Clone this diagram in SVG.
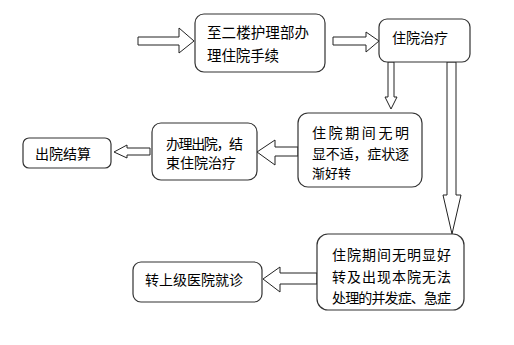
<svg xmlns="http://www.w3.org/2000/svg" width="514" height="345" viewBox="0 0 514 345">
<style>
.box{fill:#fff;stroke:#333;stroke-width:1.2}
.arr{fill:#fff;stroke:#222;stroke-width:1}
text{font-family:"Noto Sans CJK SC","Noto Sans",sans-serif;font-size:14px;fill:#000;dominant-baseline:central}
</style>
<rect width="514" height="345" fill="#fff"/>
<g id="connectors">
<polygon class="arr" points="138,37 179,37 179,28 194,41 179,53 179,45 138,45"/>
<polygon class="arr" points="333,37 366,37 366,32 379,41 366,52 366,45 333,45"/>
<polygon class="arr" points="388,62 394,62 394,97 397,97 391,109 385,97 388,97"/>
<polygon class="arr" points="447,62 456,62 456,195 461,195 452,234 443,195 447,195"/>
<polygon class="arr" points="298,147 275,147 275,140 257,152 275,165 275,156 298,156"/>
<polygon class="arr" points="150,148 127,148 127,145 114,152 127,158 127,155 150,155"/>
<polygon class="arr" points="317,273 280,273 280,267 263,279 280,292 280,284 317,284"/>
</g>
<g id="n1">
<rect class="box" x="195" y="14" width="130" height="58" rx="9"/>
<text x="207" y="31" style="font-size:14.5px" textLength="102" lengthAdjust="spacing">至二楼护理部办</text>
<text x="207" y="54" style="font-size:14.5px" textLength="72" lengthAdjust="spacing">理住院手续</text>
</g>
<g id="n2">
<rect class="box" x="379" y="19" width="91" height="43" rx="8"/>
<text x="392" y="37">住院治疗</text>
</g>
<g id="n3">
<rect class="box" x="298" y="113" width="124" height="74" rx="10"/>
<text x="312" y="132" textLength="97" lengthAdjust="spacing">住院期间无明</text>
<text x="312" y="153" textLength="97" lengthAdjust="spacing">显不适，症状逐</text>
<text x="312" y="172" style="font-size:13px">渐好转</text>
</g>
<g id="n4">
<rect class="box" x="317" y="234" width="147" height="76" rx="11"/>
<text x="332" y="254" textLength="119" lengthAdjust="spacing">住院期间无明显好</text>
<text x="332" y="276" textLength="119" lengthAdjust="spacing">转及出现本院无法</text>
<text x="332" y="297" textLength="119" lengthAdjust="spacing">处理的并发症、急症</text>
</g>
<g id="n5">
<rect class="box" x="152" y="123" width="105" height="57" rx="9"/>
<text x="166" y="143" textLength="77" lengthAdjust="spacing">办理出院，结</text>
<text x="166" y="162">束住院治疗</text>
</g>
<g id="n6">
<rect class="box" x="23" y="138" width="88" height="30" rx="6"/>
<text x="35" y="153">出院结算</text>
</g>
<g id="n7">
<rect class="box" x="133" y="262" width="129" height="40" rx="8"/>
<text x="145" y="279">转上级医院就诊</text>
</g>
</svg>
